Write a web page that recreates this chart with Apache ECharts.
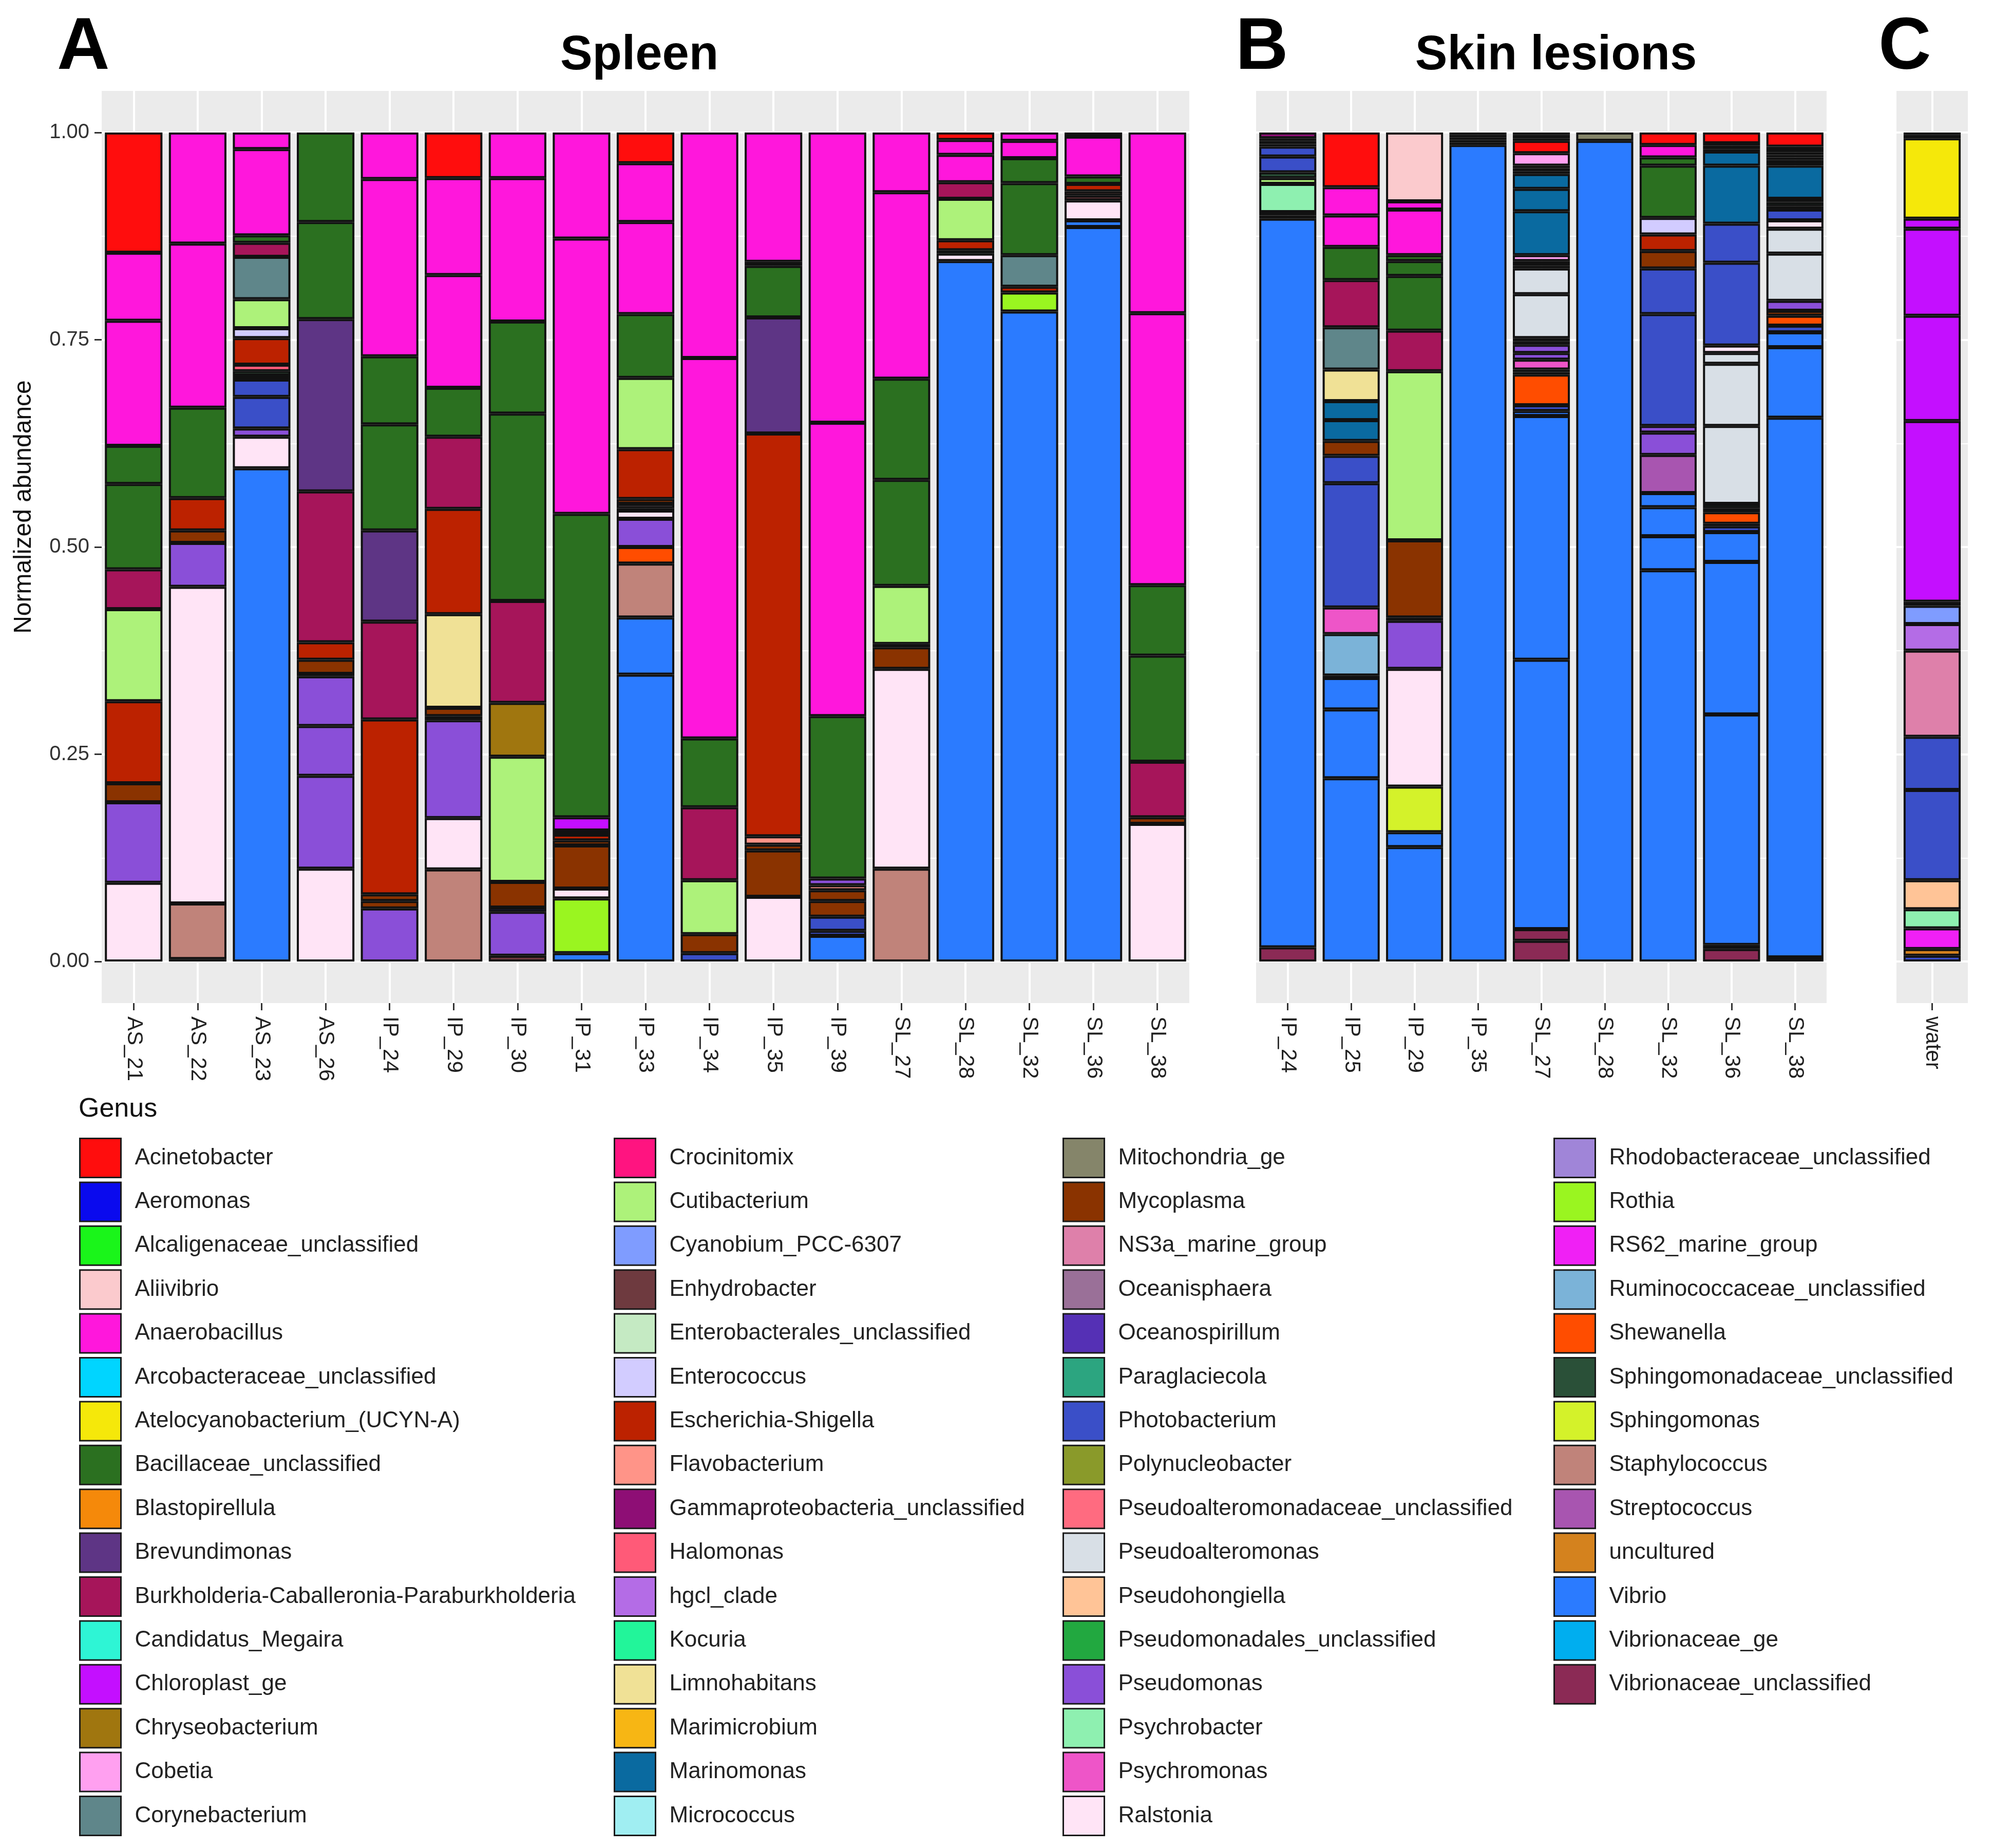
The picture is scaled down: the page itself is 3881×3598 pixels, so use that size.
<!DOCTYPE html>
<html><head><meta charset="utf-8">
<script src="https://cdn.jsdelivr.net/npm/echarts@6/dist/echarts.min.js"></script>
<style>html,body{margin:0;padding:0;background:#fff}#c{width:3881px;height:3598px}</style>
</head><body><div id="c"></div>
<script>
// ---------------- categories ----------------
const SPLEEN_SAMPLES = ["AS_21","AS_22","AS_23","AS_26","IP_24","IP_29","IP_30","IP_31","IP_33","IP_34","IP_35","IP_39","SL_27","SL_28","SL_32","SL_36","SL_38"];
const SKIN_SAMPLES = ["IP_24","IP_25","IP_29","IP_35","SL_27","SL_28","SL_32","SL_36","SL_38"];
const WATER_SAMPLES = ["water"];
const Y_TICKS = [0, 0.25, 0.5, 0.75, 1];

const GENUS = ["Acinetobacter","Aeromonas","Alcaligenaceae_unclassified","Aliivibrio","Anaerobacillus","Arcobacteraceae_unclassified","Atelocyanobacterium_(UCYN-A)","Bacillaceae_unclassified","Blastopirellula","Brevundimonas","Burkholderia-Caballeronia-Paraburkholderia","Candidatus_Megaira","Chloroplast_ge","Chryseobacterium","Cobetia","Corynebacterium",
"Crocinitomix","Cutibacterium","Cyanobium_PCC-6307","Enhydrobacter","Enterobacterales_unclassified","Enterococcus","Escherichia-Shigella","Flavobacterium","Gammaproteobacteria_unclassified","Halomonas","hgcl_clade","Kocuria","Limnohabitans","Marimicrobium","Marinomonas","Micrococcus",
"Mitochondria_ge","Mycoplasma","NS3a_marine_group","Oceanisphaera","Oceanospirillum","Paraglaciecola","Photobacterium","Polynucleobacter","Pseudoalteromonadaceae_unclassified","Pseudoalteromonas","Pseudohongiella","Pseudomonadales_unclassified","Pseudomonas","Psychrobacter","Psychromonas","Ralstonia",
"Rhodobacteraceae_unclassified","Rothia","RS62_marine_group","Ruminococcaceae_unclassified","Shewanella","Sphingomonadaceae_unclassified","Sphingomonas","Staphylococcus","Streptococcus","uncultured","Vibrio","Vibrionaceae_ge","Vibrionaceae_unclassified"];
const GENUS_COLORS = ["#FF0D0D","#0A0AEE","#1AF51A","#FBCACD","#FF17DC","#00D5FF","#F5E80A","#2B7020","#F5890A","#5E3585","#A6155A","#2EF5D5","#C40FFF","#A0760F","#FFA0F0","#5F868A",
"#FF1480","#ADF27A","#7F9CFF","#6E3A3F","#C5EAC3","#D2CCFF","#BC2200","#FF9488","#8E0E75","#FF5A78","#B46CE6","#22F59A","#F0E196","#F7B614","#0A6AA0","#A0EEF2",
"#85856A","#8A3300","#DE80AA","#9A7098","#5530B5","#2CA580","#3A4FC8","#8A9A2A","#FF6B80","#D8DFE6","#FFC497","#22A840","#8A4FD8","#8EF0B0","#EE55C8","#FFE4F6",
"#A085D8","#9AF520","#F020F5","#7BB3D8","#FF4D00","#2A5038","#D4F22A","#C0837A","#A855B0","#D4821E","#2B7BFF","#00AEEF","#8B2A55"];

// ---------------- segments (bottom -> top), [genus, abundance] ----------------
// Panel A: Spleen
const A_AS_21 = [["Ralstonia",.095],["Pseudomonas",.097],["Mycoplasma",.023],["Escherichia-Shigella",.099],["Cutibacterium",.111],["Burkholderia-Caballeronia-Paraburkholderia",.048],["Bacillaceae_unclassified",.103],["Bacillaceae_unclassified",.046],["Anaerobacillus",.151],["Anaerobacillus",.082],["Acinetobacter",.145]];
const A_AS_22 = [["Enhydrobacter",.003],["Staphylococcus",.067],["Ralstonia",.382],["Pseudomonas",.053],["Mycoplasma",.015],["Escherichia-Shigella",.039],["Bacillaceae_unclassified",.109],["Anaerobacillus",.198],["Anaerobacillus",.134]];
const A_AS_23 = [["Vibrio",.595],["Ralstonia",.038],["Pseudomonas",.010],["Photobacterium",.038],["Photobacterium",.021],["Paraglaciecola",.005],["Psychrobacter",.005],["Halomonas",.008],["Escherichia-Shigella",.032],["Enterococcus",.012],["Cutibacterium",.035],["Corynebacterium",.051],["Burkholderia-Caballeronia-Paraburkholderia",.017],["Bacillaceae_unclassified",.009],["Anaerobacillus",.104],["Anaerobacillus",.020]];
const A_AS_26 = [["Ralstonia",.112],["Pseudomonas",.112],["Pseudomonas",.060],["Pseudomonas",.060],["Enhydrobacter",.003],["Mycoplasma",.017],["Escherichia-Shigella",.021],["Burkholderia-Caballeronia-Paraburkholderia",.182],["Brevundimonas",.208],["Bacillaceae_unclassified",.117],["Bacillaceae_unclassified",.108]];
const A_IP_24 = [["Pseudomonas",.064],["Mycoplasma",.009],["Mycoplasma",.008],["Escherichia-Shigella",.211],["Burkholderia-Caballeronia-Paraburkholderia",.118],["Brevundimonas",.110],["Bacillaceae_unclassified",.128],["Bacillaceae_unclassified",.082],["Anaerobacillus",.214],["Anaerobacillus",.056]];
const A_IP_29 = [["Staphylococcus",.111],["Ralstonia",.062],["Pseudomonas",.118],["Pseudomonas",.005],["Mycoplasma",.010],["Limnohabitans",.113],["Escherichia-Shigella",.127],["Burkholderia-Caballeronia-Paraburkholderia",.087],["Bacillaceae_unclassified",.059],["Anaerobacillus",.136],["Anaerobacillus",.117],["Acinetobacter",.055]];
const A_IP_30 = [["Enhydrobacter",.007],["Pseudomonas",.053],["Photobacterium",.005],["Mycoplasma",.031],["Cutibacterium",.151],["Chryseobacterium",.065],["Burkholderia-Caballeronia-Paraburkholderia",.123],["Bacillaceae_unclassified",.226],["Bacillaceae_unclassified",.111],["Anaerobacillus",.173],["Anaerobacillus",.055]];
const A_IP_31 = [["Vibrio",.010],["Rothia",.066],["Ralstonia",.012],["Mycoplasma",.052],["Mycoplasma",.006],["Escherichia-Shigella",.007],["Enterobacterales_unclassified",.005],["Chloroplast_ge",.016],["Bacillaceae_unclassified",.366],["Anaerobacillus",.332],["Anaerobacillus",.128]];
const A_IP_33 = [["Vibrio",.346],["Vibrio",.069],["Staphylococcus",.065],["Shewanella",.020],["Pseudomonas",.034],["Ralstonia",.010],["Enhydrobacter",.003],["Ralstonia",.005],["Mycoplasma",.006],["Escherichia-Shigella",.060],["Cutibacterium",.086],["Bacillaceae_unclassified",.077],["Anaerobacillus",.111],["Anaerobacillus",.071],["Acinetobacter",.037]];
const A_IP_34 = [["Photobacterium",.010],["Mycoplasma",.023],["Cutibacterium",.065],["Burkholderia-Caballeronia-Paraburkholderia",.088],["Bacillaceae_unclassified",.083],["Anaerobacillus",.459],["Anaerobacillus",.272]];
const A_IP_35 = [["Ralstonia",.078],["Mycoplasma",.056],["Mycoplasma",.007],["Flavobacterium",.010],["Escherichia-Shigella",.486],["Brevundimonas",.140],["Bacillaceae_unclassified",.062],["Atelocyanobacterium_(UCYN-A)",.005],["Anaerobacillus",.156]];
const A_IP_39 = [["Vibrio",.031],["Photobacterium",.006],["Photobacterium",.017],["Mycoplasma",.019],["Mycoplasma",.013],["Flavobacterium",.006],["Pseudomonas",.008],["Bacillaceae_unclassified",.196],["Anaerobacillus",.354],["Anaerobacillus",.350]];
const A_SL_27 = [["Staphylococcus",.112],["Ralstonia",.241],["Mycoplasma",.026],["Enhydrobacter",.004],["Cutibacterium",.070],["Bacillaceae_unclassified",.128],["Bacillaceae_unclassified",.122],["Anaerobacillus",.225],["Anaerobacillus",.072]];
const A_SL_28 = [["Vibrio",.845],["Ralstonia",.009],["Enhydrobacter",.004],["Escherichia-Shigella",.012],["Cutibacterium",.050],["Burkholderia-Caballeronia-Paraburkholderia",.020],["Anaerobacillus",.033],["Anaerobacillus",.018],["Acinetobacter",.009]];
const A_SL_32 = [["Vibrio",.784],["Rothia",.023],["Escherichia-Shigella",.007],["Corynebacterium",.038],["Bacillaceae_unclassified",.087],["Bacillaceae_unclassified",.030],["Anaerobacillus",.021],["Anaerobacillus",.010]];
const A_SL_36 = [["Vibrio",.886],["Vibrio",.008],["Ralstonia",.024],["Enhydrobacter",.006],["Staphylococcus",.005],["Escherichia-Shigella",.009],["Bacillaceae_unclassified",.009],["Anaerobacillus",.048],["Anaerobacillus",.005]];
const A_SL_38 = [["Ralstonia",.166],["Mycoplasma",.008],["Burkholderia-Caballeronia-Paraburkholderia",.067],["Bacillaceae_unclassified",.128],["Bacillaceae_unclassified",.085],["Anaerobacillus",.328],["Anaerobacillus",.218]];

// Panel B: Skin lesions
const B_IP_24 = [["Vibrionaceae_unclassified",.017],["Vibrio",.879],["Enhydrobacter",.004],["Sphingomonadaceae_unclassified",.004],["Psychrobacter",.034],["Cutibacterium",.007],["Sphingomonadaceae_unclassified",.007],["Photobacterium",.019],["Photobacterium",.012],["Enhydrobacter",.003],["Sphingomonadaceae_unclassified",.004],["Gammaproteobacteria_unclassified",.003],["Gammaproteobacteria_unclassified",.007]];
const B_IP_25 = [["Vibrio",.221],["Vibrio",.083],["Vibrio",.038],["Enhydrobacter",.003],["Ruminococcaceae_unclassified",.050],["Psychromonas",.032],["Photobacterium",.150],["Photobacterium",.033],["Mycoplasma",.018],["Marinomonas",.025],["Marinomonas",.023],["Limnohabitans",.038],["Corynebacterium",.051],["Burkholderia-Caballeronia-Paraburkholderia",.057],["Bacillaceae_unclassified",.040],["Anaerobacillus",.038],["Anaerobacillus",.034],["Acinetobacter",.066]];
const B_IP_29 = [["Vibrio",.138],["Vibrio",.018],["Sphingomonas",.055],["Ralstonia",.142],["Pseudomonas",.058],["Photobacterium",.004],["Mycoplasma",.093],["Cutibacterium",.204],["Burkholderia-Caballeronia-Paraburkholderia",.049],["Bacillaceae_unclassified",.066],["Bacillaceae_unclassified",.018],["Bacillaceae_unclassified",.007],["Anaerobacillus",.055],["Anaerobacillus",.010],["Aliivibrio",.083]];
const B_IP_35 = [["Vibrio",.985],["Sphingomonadaceae_unclassified",.003],["Enhydrobacter",.003],["Vibrionaceae_unclassified",.003],["Gammaproteobacteria_unclassified",.003],["Sphingomonadaceae_unclassified",.003]];
const B_SL_27 = [["Vibrionaceae_unclassified",.025],["Vibrionaceae_unclassified",.014],["Vibrio",.325],["Vibrio",.294],["Vibrio",.006],["Photobacterium",.007],["Shewanella",.037],["Enhydrobacter",.003],["Sphingomonadaceae_unclassified",.003],["Psychromonas",.012],["Pseudomonas",.008],["Pseudomonas",.010],["Enhydrobacter",.004],["Sphingomonadaceae_unclassified",.004],["Pseudoalteromonas",.053],["Pseudoalteromonas",.031],["Enhydrobacter",.003],["Sphingomonadaceae_unclassified",.003],["Enhydrobacter",.003],["Cobetia",.007],["Marinomonas",.053],["Marinomonas",.027],["Marinomonas",.018],["Enhydrobacter",.003],["Sphingomonadaceae_unclassified",.004],["Enhydrobacter",.003],["Cobetia",.015],["Acinetobacter",.015],["Enhydrobacter",.003],["Sphingomonadaceae_unclassified",.004],["Enhydrobacter",.003]];
const B_SL_28 = [["Vibrio",.990],["Mitochondria_ge",.010]];
const B_SL_32 = [["Vibrio",.472],["Vibrio",.041],["Vibrio",.035],["Vibrio",.017],["Streptococcus",.046],["Pseudomonas",.027],["Pseudomonas",.008],["Photobacterium",.135],["Photobacterium",.055],["Mycoplasma",.021],["Escherichia-Shigella",.020],["Enterococcus",.020],["Bacillaceae_unclassified",.063],["Bacillaceae_unclassified",.010],["Anaerobacillus",.015],["Acinetobacter",.015]];
const B_SL_36 = [["Vibrionaceae_unclassified",.015],["Enhydrobacter",.005],["Vibrio",.278],["Vibrio",.184],["Vibrio",.036],["Photobacterium",.007],["Enhydrobacter",.003],["Shewanella",.014],["Enhydrobacter",.005],["Sphingomonadaceae_unclassified",.005],["Pseudoalteromonas",.094],["Pseudoalteromonas",.075],["Pseudoalteromonas",.013],["Ralstonia",.009],["Photobacterium",.100],["Photobacterium",.047],["Marinomonas",.070],["Marinomonas",.017],["Enhydrobacter",.003],["Sphingomonadaceae_unclassified",.004],["Enhydrobacter",.003],["Acinetobacter",.013]];
const B_SL_38 = [["Enhydrobacter",.005],["Vibrio",.651],["Vibrio",.085],["Vibrio",.018],["Photobacterium",.008],["Shewanella",.012],["Mycoplasma",.006],["Pseudomonas",.012],["Pseudoalteromonas",.057],["Pseudoalteromonas",.030],["Ralstonia",.010],["Photobacterium",.013],["Enhydrobacter",.004],["Sphingomonadaceae_unclassified",.005],["Enhydrobacter",.004],["Marinomonas",.040],["Sphingomonadaceae_unclassified",.004],["Enhydrobacter",.003],["Oceanospirillum",.003],["Sphingomonadaceae_unclassified",.003],["Gammaproteobacteria_unclassified",.003],["Enhydrobacter",.003],["Vibrionaceae_unclassified",.004],["Acinetobacter",.017]];

// Panel C: water
const C_WATER = [["Photobacterium",.007],["uncultured",.008],["RS62_marine_group",.025],["Psychrobacter",.023],["Pseudohongiella",.035],["Photobacterium",.109],["Photobacterium",.064],["NS3a_marine_group",.104],["hgcl_clade",.032],["Cyanobium_PCC-6307",.022],["Halomonas",.005],["Chloroplast_ge",.218],["Chloroplast_ge",.127],["Chloroplast_ge",.105],["Chloroplast_ge",.012],["Atelocyanobacterium_(UCYN-A)",.097],["Enhydrobacter",.004],["Sphingomonadaceae_unclassified",.003]];

const SPLEEN_DATA = [A_AS_21,A_AS_22,A_AS_23,A_AS_26,A_IP_24,A_IP_29,A_IP_30,A_IP_31,A_IP_33,A_IP_34,A_IP_35,A_IP_39,A_SL_27,A_SL_28,A_SL_32,A_SL_36,A_SL_38];
const SKIN_DATA = [B_IP_24,B_IP_25,B_IP_29,B_IP_35,B_SL_27,B_SL_28,B_SL_32,B_SL_36,B_SL_38];
const WATER_DATA = [C_WATER];

// ---------------- build chart ----------------
const FONT = '"Liberation Sans", Arial, Helvetica, sans-serif';
const colorOf = {};
GENUS.forEach((g, i) => { colorOf[g] = GENUS_COLORS[i]; });

function buildLayers(samples, axisIdx, stack, bw) {
  const n = Math.max(...samples.map(s => s.length));
  const out = [];
  for (let k = 0; k < n; k++) {
    out.push({
      type: 'bar', name: stack + '_layer_' + k, stack: stack,
      xAxisIndex: axisIdx, yAxisIndex: axisIdx, barWidth: bw,
      silent: true, animation: false,
      itemStyle: { borderColor: '#111', borderWidth: 4 },
      emphasis: { disabled: true },
      data: samples.map(s => s[k] ? { value: s[k][1], itemStyle: { color: colorOf[s[k][0]] || '#000' } } : '-')
    });
  }
  return out;
}

const PANELS = [
  { left: 198, width: 2118, cats: SPLEEN_SAMPLES, bw: '90%' },
  { left: 2446, width: 1111, cats: SKIN_SAMPLES, bw: '90%' },
  { left: 3693, width: 139, cats: WATER_SAMPLES, bw: '80%' }
];
const DATA_TOP = 258, DATA_H = 1614, BG_TOP = 177, BG_H = 1776;

const grids = [], xAxes = [], yAxes = [];
PANELS.forEach((p, i) => {
  grids.push({ left: p.left, width: p.width, top: DATA_TOP, height: DATA_H, show: false, containLabel: false, outerBoundsMode: 'none' });
  xAxes.push({ type: 'category', gridIndex: i, data: p.cats, show: false });
  yAxes.push({
    type: 'value', gridIndex: i, min: 0, max: 1, interval: 0.25, z: 1,
    axisLine: { show: false },
    axisTick: { show: i === 0, length: 14, lineStyle: { color: '#333', width: 3 } },
    axisLabel: { show: i === 0, fontSize: 40, color: '#333', fontFamily: FONT, margin: 24, formatter: v => Y_TICKS.includes(v) ? v.toFixed(2) : '' },
    splitLine: { show: true, lineStyle: { color: '#FFFFFF', width: 4 } },
    minorTick: { show: false, splitNumber: 2 },
    minorSplitLine: { show: true, lineStyle: { color: '#FFFFFF', width: 2 } }
  });
});
PANELS.forEach((p, i) => {
  grids.push({ left: p.left, width: p.width, top: BG_TOP, height: BG_H, show: true, backgroundColor: '#EBEBEB', borderWidth: 0, z: 0, containLabel: false, outerBoundsMode: 'none' });
  xAxes.push({
    type: 'category', gridIndex: 3 + i, data: p.cats, z: 1,
    axisLine: { show: false },
    axisTick: { show: true, alignWithLabel: true, length: 14, lineStyle: { color: '#333', width: 3 } },
    axisLabel: { rotate: -90, interval: 0, fontSize: 42, color: '#222', fontFamily: FONT, margin: 26 },
    splitLine: { show: true, alignWithLabel: true, lineStyle: { color: '#FFFFFF', width: 4 } }
  });
  yAxes.push({ type: 'value', gridIndex: 3 + i, min: 0, max: 1, show: false, splitLine: { show: false } });
});

let series = [];
series = series.concat(buildLayers(SPLEEN_DATA, 0, 'A', '90%'));
series = series.concat(buildLayers(SKIN_DATA, 1, 'B', '90%'));
series = series.concat(buildLayers(WATER_DATA, 2, 'C', '80%'));
// legend entries (no marks)
GENUS.forEach((g, i) => {
  series.push({ type: 'bar', name: g, stack: 'A', xAxisIndex: 0, yAxisIndex: 0, barWidth: '90%', data: [], itemStyle: { color: GENUS_COLORS[i] } });
});

const LEG_LEFT = [154, 1195, 2069, 3025];
const legends = [0, 1, 2, 3].map(c => ({
  data: GENUS.slice(c * 16, c * 16 + 16),
  orient: 'vertical', left: LEG_LEFT[c], top: 2215, height: 1375, width: 860, padding: 0,
  itemWidth: 80, itemHeight: 76, itemGap: 6.4, icon: 'rect', selectedMode: false,
  itemStyle: { borderColor: '#1a1a1a', borderWidth: 3 },
  textStyle: { fontSize: 44, color: '#222', fontFamily: FONT, padding: [0, 0, 0, 22] }
}));

const titleStyle = (txt, x, y, size, align) => ({
  type: 'text', x: x, y: y, silent: true,
  style: { text: txt, font: 'bold ' + size + 'px ' + FONT, fill: '#000', textAlign: align, textVerticalAlign: 'middle' }
});

const option = {
  animation: false,
  backgroundColor: '#FFFFFF',
  grid: grids, xAxis: xAxes, yAxis: yAxes,
  legend: legends,
  series: series,
  graphic: [
    titleStyle('A', 111, 95, 142, 'left'),
    titleStyle('Spleen', 1245, 109, 94, 'center'),
    titleStyle('B', 2406, 95, 142, 'left'),
    titleStyle('Skin lesions', 3030, 109, 94, 'center'),
    titleStyle('C', 3658, 95, 142, 'left'),
    { type: 'text', x: 47, y: 987, rotation: Math.PI / 2, silent: true,
      style: { text: 'Normalized abundance', font: '48px ' + FONT, fill: '#111', textAlign: 'center', textVerticalAlign: 'middle' } },
    { type: 'text', x: 153, y: 2160, silent: true,
      style: { text: 'Genus', font: '52px ' + FONT, fill: '#111', textAlign: 'left', textVerticalAlign: 'middle' } }
  ]
};

const chart = echarts.init(document.getElementById('c'), null, { renderer: 'canvas', width: 3881, height: 3598 });
chart.setOption(option);
</script></body></html>
